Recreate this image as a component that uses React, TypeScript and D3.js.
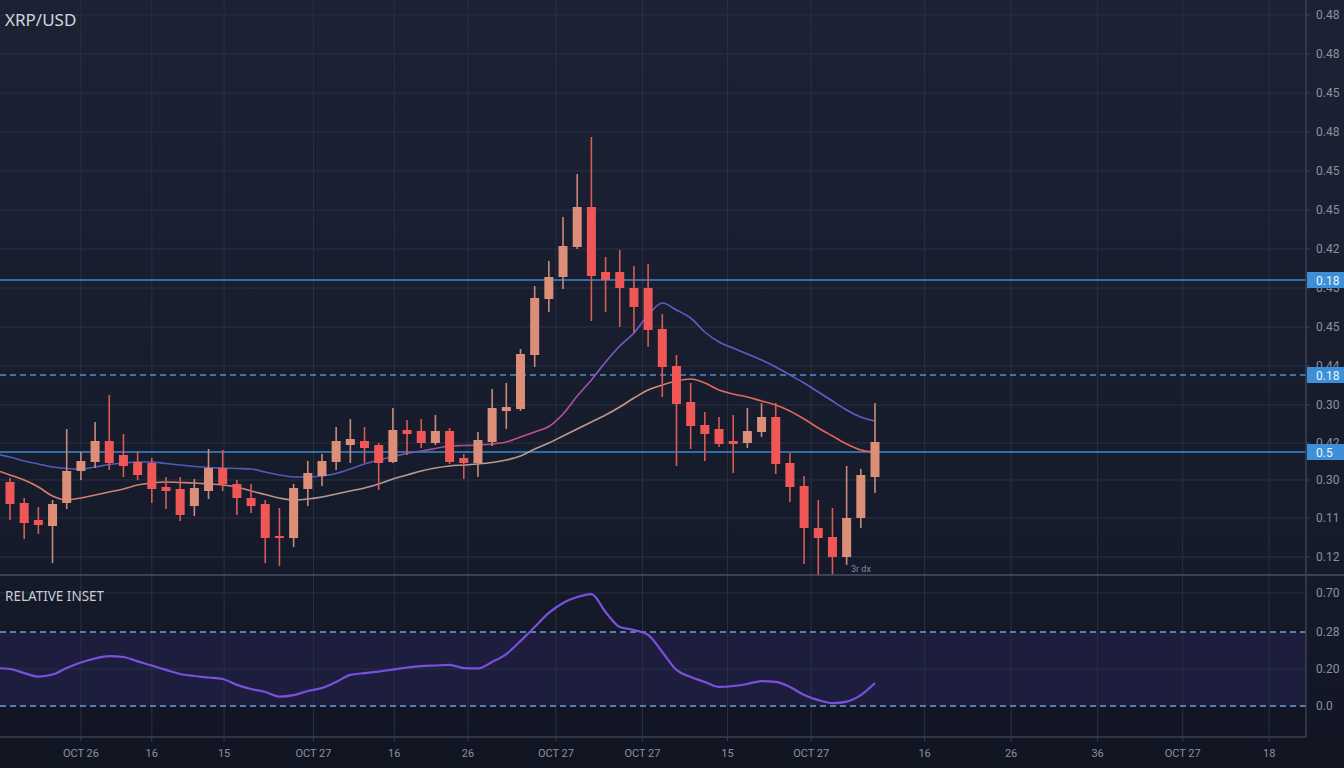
import React from 'react';
import * as d3 from 'd3';

// ---------- DATA ----------
const opens = [0.509,0.4985,0.490,0.487,0.4985,0.5145,0.519,0.5295,0.5225,0.519,0.5185,0.5065,0.5055,0.497,0.5045,0.516,0.508,0.501,0.498,0.482,0.481,0.5055,0.512,0.519,0.5275,0.5295,0.5275,0.519,0.535,0.5345,0.5285,0.5345,0.521,0.5185,0.529,0.5445,0.5455,0.5725,0.6005,0.6115,0.6265,0.6465,0.614,0.614,0.606,0.606,0.5855,0.567,0.549,0.5375,0.5355,0.5295,0.5285,0.534,0.5415,0.5185,0.507,0.486,0.4815,0.4715,0.491,0.5115];
const highs = [0.511,0.501,0.4965,0.500,0.5355,0.524,0.539,0.5525,0.533,0.5245,0.521,0.5115,0.5115,0.5105,0.5255,0.525,0.510,0.508,0.500,0.496,0.508,0.5195,0.523,0.5365,0.5405,0.5365,0.5285,0.546,0.540,0.5405,0.5425,0.536,0.523,0.534,0.5555,0.5585,0.5755,0.607,0.6195,0.6415,0.663,0.6815,0.6215,0.625,0.617,0.618,0.593,0.5725,0.5585,0.544,0.5415,0.5425,0.546,0.5485,0.5485,0.5235,0.512,0.500,0.496,0.517,0.5155,0.5485];
const lows = [0.490,0.4805,0.483,0.4685,0.4955,0.510,0.516,0.515,0.5115,0.510,0.4985,0.4955,0.4895,0.492,0.5005,0.5045,0.4925,0.4935,0.4685,0.467,0.4765,0.497,0.507,0.515,0.5185,0.5185,0.505,0.5185,0.5225,0.526,0.5275,0.518,0.5105,0.5115,0.527,0.5355,0.5445,0.5665,0.594,0.6055,0.6255,0.5895,0.594,0.5865,0.5835,0.5765,0.5515,0.517,0.5255,0.5195,0.5265,0.5135,0.526,0.5315,0.513,0.499,0.468,0.4625,0.4625,0.4675,0.486,0.5035];
const closes = [0.498,0.4885,0.4875,0.498,0.5145,0.5195,0.5295,0.5185,0.517,0.5125,0.5055,0.5045,0.4925,0.506,0.516,0.508,0.501,0.497,0.481,0.481,0.506,0.5135,0.5195,0.5295,0.5305,0.526,0.5185,0.535,0.533,0.5285,0.5345,0.519,0.5185,0.530,0.546,0.5465,0.573,0.601,0.6115,0.627,0.6465,0.612,0.610,0.606,0.5965,0.585,0.5665,0.548,0.537,0.533,0.528,0.528,0.5345,0.5415,0.518,0.5065,0.486,0.481,0.4715,0.491,0.5125,0.529];

// moving averages, from index -1 to 61
const maFast = [0.523,0.5215,0.5195,0.518,0.5165,0.51575,0.5155,0.5165,0.51775,0.5185,0.519,0.519,0.51825,0.5175,0.51675,0.51625,0.516,0.51575,0.5155,0.514,0.5125,0.5115,0.5115,0.512,0.51325,0.5155,0.518,0.520,0.52175,0.52325,0.5245,0.52575,0.527,0.52725,0.5275,0.528,0.529,0.5315,0.534,0.53675,0.543,0.552,0.560,0.569,0.577,0.5835,0.5925,0.5985,0.595,0.591,0.584,0.579,0.576,0.573,0.570,0.5665,0.5625,0.5585,0.554,0.5495,0.545,0.5415,0.5395];
const maSlow = [0.515,0.5125,0.510,0.5065,0.502,0.500,0.501,0.5025,0.504,0.5055,0.5075,0.5085,0.509,0.50875,0.5085,0.508,0.5075,0.5065,0.5045,0.50275,0.501,0.500,0.5005,0.5015,0.503,0.5045,0.506,0.508,0.5105,0.5125,0.5145,0.516,0.517,0.5175,0.518,0.51875,0.520,0.522,0.5255,0.5285,0.532,0.5355,0.539,0.5425,0.5465,0.551,0.555,0.5575,0.5595,0.5605,0.5585,0.555,0.553,0.5515,0.5495,0.5475,0.5445,0.5405,0.536,0.532,0.528,0.525,0.524];

// indicator, from index -1 to 61
const insetValues = [50.5,50.0,47.8,45.9,47.0,50.5,53.5,55.7,57.0,56.5,54.1,51.9,49.5,47.3,46.2,45.4,44.6,41.4,39.2,37.6,35.1,35.9,38.1,39.7,43.0,46.8,47.8,48.6,49.7,50.8,51.6,51.9,52.2,50.5,50.3,53.8,58.1,65.1,72.7,80.3,85.7,88.9,90.5,80.8,72.7,71.1,68.4,59.2,49.5,45.7,43.0,40.3,40.8,41.9,43.5,43.0,40.3,35.9,33.2,31.6,32.4,35.9,42.4];

// horizontal levels
const levelValues = [0.61, 0.5625, 0.524];
const levelDashed = [false, true, false];
const levelLabels = ['0.18', '0.18', '0.5'];

// axis ticks
const priceTicks = [0.7425,0.723,0.7035,0.684,0.6645,0.645,0.6255,0.606,0.5865,0.567,0.5475,0.5285,0.51,0.491,0.4715];
const priceTickLabels = ['0.48','0.48','0.45','0.48','0.45','0.45','0.42','0.45','0.45','0.44','0.30','0.42','0.30','0.11','0.12'];
const insetTicks = [91.1, 70, 50, 30];
const insetTickLabels = ['0.70', '0.28', '0.20', '0.0'];
const insetBand = [30, 70];
const timeTicks = [5, 10, 15.1, 21.4, 27.1, 32.3, 38.5, 44.6, 50.6, 56.5, 64.5, 70.6, 76.7, 82.7, 88.8];
const timeTickLabels = ['OCT 26','16','15','OCT 27','16','26','OCT 27','OCT 27','15','OCT 27','16','26','36','OCT 27','18'];

// ---------- LAYOUT ----------
const W = 1344, H = 768;
const PLOT_R = 1306;
const MAIN_B = 575;
const AXIS_Y = 737;

const UP = '#dc8f78';
const UP_WICK = '#c98a7c';
const DOWN = '#ef5656';
const DOWN_WICK = '#d95a56';
const GRID = '#283044';
const TXT = '#8b91a0';

export default function App() {
  const x = d3.scaleLinear().domain([0, 61]).range([10, 875]);
  const y = d3.scaleLinear().domain([0.4625, 0.75]).range([MAIN_B, 0]);
  const yi = d3.scaleLinear().domain([30, 70]).range([706, 632]);

  const maLine = d3.line<number>().x((_, i) => x(i - 1)).y(d => y(d)).curve(d3.curveMonotoneX);
  const insetLine = d3.line<number>().x((_, i) => x(i - 1)).y(d => yi(d)).curve(d3.curveMonotoneX);

  const bodyW = 9;

  return (
    <svg width={W} height={H} style={{ position: 'absolute', left: 0, top: 0, display: 'block' }}>
      <defs>
        <linearGradient id="bg" x1="0" y1="0" x2="0" y2="1">
          <stop offset="0" stopColor="#1c2234" />
          <stop offset="0.7" stopColor="#161b2b" />
          <stop offset="1" stopColor="#111522" />
        </linearGradient>
        <linearGradient id="gFast" gradientUnits="userSpaceOnUse" x1="0" y1="0" x2="880" y2="0">
          <stop offset="0" stopColor="#4b5db6" />
          <stop offset="0.39" stopColor="#4f5ab8" />
          <stop offset="0.5" stopColor="#9a4c9c" />
          <stop offset="0.58" stopColor="#c44e88" />
          <stop offset="0.63" stopColor="#bb5092" />
          <stop offset="0.7" stopColor="#7a58d0" />
          <stop offset="0.78" stopColor="#5b5cc4" />
          <stop offset="1" stopColor="#5a5ec2" />
        </linearGradient>
        <linearGradient id="gSlow" gradientUnits="userSpaceOnUse" x1="0" y1="0" x2="880" y2="0">
          <stop offset="0" stopColor="#d67a6c" />
          <stop offset="0.25" stopColor="#c98578" />
          <stop offset="0.36" stopColor="#b49a92" />
          <stop offset="0.6" stopColor="#b89c90" />
          <stop offset="0.74" stopColor="#c99383" />
          <stop offset="0.8" stopColor="#e06a5c" />
          <stop offset="1" stopColor="#e8605a" />
        </linearGradient>
        <clipPath id="clipMain">
          <rect x={0} y={0} width={PLOT_R} height={MAIN_B} />
        </clipPath>
        <clipPath id="clipInset">
          <rect x={0} y={MAIN_B} width={PLOT_R} height={AXIS_Y - MAIN_B} />
        </clipPath>
      </defs>

      <rect x={0} y={0} width={W} height={H} fill="url(#bg)" />

      {/* band in inset */}
      <rect x={0} y={yi(insetBand[1])} width={PLOT_R} height={yi(insetBand[0]) - yi(insetBand[1])} fill="#201e42" opacity={0.85} />

      {/* vertical grid */}
      {timeTicks.map((t, i) => (
        <line key={'vg' + i} x1={x(t)} x2={x(t)} y1={0} y2={AXIS_Y} stroke={GRID} strokeWidth={1} />
      ))}
      {/* horizontal grid main */}
      {priceTicks.map((t, i) => (
        <line key={'hg' + i} x1={0} x2={PLOT_R} y1={y(t)} y2={y(t)} stroke={GRID} strokeWidth={1} />
      ))}
      {/* horizontal grid inset */}
      {insetTicks.filter((_, i) => i === 0 || i === 2).map((t, i) => (
        <line key={'ig' + i} x1={0} x2={PLOT_R} y1={yi(t)} y2={yi(t)} stroke={GRID} strokeWidth={1} />
      ))}

      {/* levels */}
      {levelValues.map((v, i) => (
        <line key={'lv' + i} x1={0} x2={PLOT_R} y1={y(v)} y2={y(v)}
          stroke={levelDashed[i] ? '#4d8fd2' : '#3b88d2'} strokeWidth={1.5}
          strokeDasharray={levelDashed[i] ? '6 4' : undefined} />
      ))}

      {/* MAs */}
      <g clipPath="url(#clipMain)">
        <path d={maLine(maSlow) || ''} fill="none" stroke="url(#gSlow)" strokeWidth={1.6} />
        <path d={maLine(maFast) || ''} fill="none" stroke="url(#gFast)" strokeWidth={1.6} />
      </g>

      {/* candles */}
      <g clipPath="url(#clipMain)">
        {opens.map((o, i) => {
          const c = closes[i];
          const up = c > o;
          const cx = x(i);
          const top = y(Math.max(o, c));
          const bot = y(Math.min(o, c));
          return (
            <g key={'c' + i}>
              <line x1={cx} x2={cx} y1={y(highs[i])} y2={y(lows[i])} stroke={up ? UP_WICK : DOWN_WICK} strokeWidth={1.6} />
              <rect x={cx - bodyW / 2} y={top} width={bodyW} height={Math.max(2, bot - top)} fill={up ? UP : DOWN} />
            </g>
          );
        })}
      </g>

      <text x={851} y={572} fontFamily="Roboto, sans-serif" fontSize={9} fill="#7f8db0">3r dx</text>

      {/* inset dashed levels */}
      {insetBand.map((v, i) => (
        <line key={'il' + i} x1={0} x2={PLOT_R} y1={yi(v)} y2={yi(v)} stroke="#6b9fd2" strokeWidth={1.6} strokeDasharray="6 4" />
      ))}
      <g clipPath="url(#clipInset)">
        <path d={insetLine(insetValues) || ''} fill="none" stroke="#7c50df" strokeWidth={2.2} />
      </g>

      {/* separators / axes */}
      <line x1={0} x2={W} y1={MAIN_B} y2={MAIN_B} stroke="#4a505f" strokeWidth={1.5} />
      <line x1={0} x2={PLOT_R} y1={AXIS_Y} y2={AXIS_Y} stroke="#3a4052" strokeWidth={1.5} />
      <line x1={PLOT_R} x2={PLOT_R} y1={0} y2={AXIS_Y} stroke="#3a4052" strokeWidth={1.5} />

      {/* right axis labels */}
      {priceTicks.map((t, i) => (
        <g key={'pl' + i}>
          <line x1={PLOT_R} x2={PLOT_R + 4} y1={y(t)} y2={y(t)} stroke="#3a4052" />
          <text x={1316} y={y(t) + 4} fontFamily="Roboto, sans-serif" fontSize={12} fill={TXT}>{priceTickLabels[i]}</text>
        </g>
      ))}
      {insetTicks.map((t, i) => (
        <g key={'il2' + i}>
          <text x={1316} y={yi(t) + 4} fontFamily="Roboto, sans-serif" fontSize={12} fill={TXT}>{insetTickLabels[i]}</text>
        </g>
      ))}

      {/* level label boxes */}
      {levelValues.map((v, i) => (
        <g key={'lb' + i}>
          <rect x={PLOT_R + 1} y={y(v) - 8} width={W - PLOT_R - 1} height={16} fill="#3d8fd8" />
          <text x={1316} y={y(v) + 4.5} fontFamily="Roboto, sans-serif" fontSize={12} fill="#eef5ff">{levelLabels[i]}</text>
        </g>
      ))}

      {/* bottom axis */}
      {timeTicks.map((t, i) => (
        <g key={'tl' + i}>
          <line x1={x(t)} x2={x(t)} y1={AXIS_Y} y2={AXIS_Y + 4} stroke="#3a4052" />
          <text x={x(t)} y={757} textAnchor="middle" fontFamily="Roboto, sans-serif" fontSize={11} fill={TXT}>{timeTickLabels[i]}</text>
        </g>
      ))}

      {/* titles */}
      <text x={5} y={26} fontFamily="'Noto Sans', sans-serif" fontSize={17} fill="#d2d6de">XRP/USD</text>
      <text x={5} y={601} fontFamily="'Noto Sans', sans-serif" fontSize={13.5} fill="#c9cdd6">RELATIVE INSET</text>
    </svg>
  );
}
